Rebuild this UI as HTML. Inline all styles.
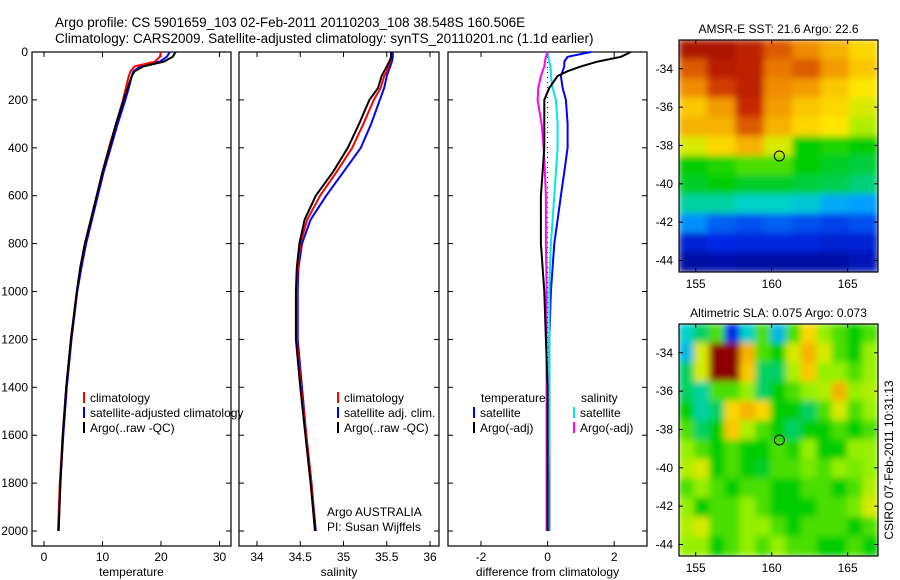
<!DOCTYPE html>
<html><head><meta charset="utf-8">
<style>
body{margin:0;background:#fff;width:900px;height:580px;overflow:hidden}
svg{display:block;font-family:"Liberation Sans",sans-serif}
text{font-size:12px;fill:#000}
</style></head><body>
<svg id="fig" width="900" height="580">
<defs>
<filter id="blur" x="0" y="0" width="1" height="1"><feGaussianBlur stdDeviation="3.5" edgeMode="duplicate"/></filter>
<clipPath id="clipM1"><rect x="679" y="40" width="199" height="232"/></clipPath>
<clipPath id="clipM2"><rect x="679" y="324" width="199" height="232"/></clipPath>
</defs>
<text x="55" y="27" style="font-size:13.5px">Argo profile: CS 5901659_103 02-Feb-2011 20110203_108 38.548S 160.506E</text>
<text x="55" y="43" style="font-size:13.5px">Climatology: CARS2009. Satellite-adjusted climatology: synTS_20110201.nc (1.1d earlier)</text>
<text transform="translate(893,460) rotate(-90)" text-anchor="middle">CSIRO 07-Feb-2011 10:31:13</text>
</svg>
<script>
const depths=[0,20,40,60,80,100,150,200,300,400,500,600,700,800,900,1000,1200,1400,1600,1800,2000];
const tempArgo=[22.5,22,20.5,17,15.5,15,14.3,13.6,12.3,11.2,10,9,8,7,6.2,5.6,4.6,3.8,3.2,2.8,2.5];
const tempClim=[20,19.8,19,15.5,14.8,14.5,14,13.5,12.3,11.1,10,9,8,7,6.2,5.6,4.6,3.8,3.2,2.7,2.4];
const tempSat=[21.5,21,19.8,16.5,15.3,15,14.5,13.9,12.6,11.4,10.2,9.2,8.2,7.2,6.4,5.7,4.7,3.9,3.3,2.8,2.5];
const salArgo=[35.55,35.55,35.53,35.5,35.47,35.44,35.4,35.3,35.18,35.05,34.88,34.68,34.55,34.49,34.46,34.45,34.45,34.5,34.56,34.62,34.67];
const salClim=[35.55,35.55,35.54,35.52,35.5,35.47,35.43,35.35,35.23,35.1,34.92,34.73,34.58,34.5,34.47,34.46,34.46,34.51,34.57,34.63,34.67];
const salSat=[35.57,35.57,35.56,35.54,35.52,35.5,35.47,35.42,35.32,35.2,35.0,34.8,34.62,34.52,34.48,34.47,34.47,34.52,34.57,34.63,34.68];
const dTempArgo=[2.5,2.2,1.5,1.0,0.6,0.3,0.05,-0.1,-0.1,-0.1,-0.15,-0.2,-0.2,-0.2,-0.15,-0.1,-0.05,0,0,0,0];
const dTempSat=[1.3,0.6,0.5,0.5,0.45,0.4,0.45,0.55,0.6,0.6,0.5,0.4,0.3,0.2,0.15,0.1,0.05,0.05,0.05,0.05,0.05];
const dSalSat=[0,0.02,0.05,0.08,0.1,0.1,0.15,0.25,0.3,0.3,0.25,0.2,0.15,0.1,0.07,0.05,0.05,0.05,0.05,0.03,0.03];
const dSalArgo=[0,-0.05,-0.08,-0.1,-0.15,-0.2,-0.28,-0.3,-0.18,-0.12,-0.08,-0.05,-0.05,-0.05,-0.04,-0.03,-0.03,-0.03,-0.03,-0.03,-0.03];
const depthTicks=[0,200,400,600,800,1000,1200,1400,1600,1800,2000];
const tempTicks=[0,10,20,30];
const salTicks=[34,34.5,35,35.5,36];
const diffTicks=[-2,0,2];
const latTicks=[-34,-36,-38,-40,-42,-44];
const lonTicks=[155,160,165];
const sstGrid=[
[.95,.95,.92,.85,.80,.75,.70],
[.85,.93,.92,.82,.85,.78,.72],
[.80,.88,.92,.80,.78,.72,.68],
[.72,.78,.90,.78,.72,.70,.65],
[.75,.75,.85,.75,.70,.68,.62],
[.65,.70,.75,.65,.50,.52,.50],
[.50,.52,.55,.55,.50,.48,.47],
[.48,.50,.48,.48,.47,.46,.44],
[.42,.42,.40,.40,.38,.32,.30],
[.28,.22,.20,.22,.20,.18,.20],
[.12,.15,.14,.14,.14,.12,.12],
[.05,.06,.05,.05,.05,.05,.08]];
const slaGrid=[
[.40,.45,.55,.15,.40,.55,.35,.55,.70,.60,.55,.50,.55],
[.35,.65,1.0,1.0,.75,.55,.50,.65,.75,.65,.55,.50,.60],
[.45,.65,1.0,1.0,.72,.45,.45,.62,.72,.60,.60,.55,.60],
[.45,.42,.55,.55,.60,.45,.50,.55,.60,.62,.75,.60,.62],
[.50,.42,.45,.70,.75,.70,.50,.50,.45,.55,.65,.55,.60],
[.55,.45,.50,.72,.62,.55,.50,.45,.50,.50,.55,.50,.55],
[.60,.55,.50,.55,.50,.50,.55,.52,.60,.50,.50,.60,.60],
[.62,.65,.50,.55,.50,.48,.55,.55,.58,.55,.60,.58,.60],
[.55,.60,.55,.50,.55,.55,.50,.50,.55,.55,.50,.55,.62],
[.60,.50,.55,.55,.60,.55,.50,.50,.50,.55,.55,.58,.65],
[.62,.65,.55,.55,.60,.60,.55,.50,.55,.55,.55,.50,.55],
[.60,.60,.50,.55,.60,.55,.60,.55,.55,.50,.50,.55,.50]];
const argoLon=160.506, argoLat=-38.548;

const NS="http://www.w3.org/2000/svg";
const svg=document.getElementById('fig');
function mk(tag,attrs,parent){const e=document.createElementNS(NS,tag);for(const k in attrs)e.setAttribute(k,attrs[k]);(parent||svg).appendChild(e);return e;}
const yD=d=>52+d*0.2395;
const P={top:52,bottom:546};
const panels=[
 {name:'temperature',x0:32,x1:231,sx:v=>44+v*5.85,ticks:tempTicks,label:'temperature'},
 {name:'salinity',x0:239,x1:439,sx:v=>257+(v-34)*86.5,ticks:salTicks,label:'salinity'},
 {name:'difference',x0:448,x1:647,sx:v=>547.6+v*33.3,ticks:diffTicks,label:'difference from climatology'}];
panels.forEach((p,i)=>{
 const g=mk('g',{});
 
 
 const r=mk('rect',{x:p.x0,y:P.top,width:p.x1-p.x0,height:P.bottom-P.top,fill:'none',stroke:'#000','stroke-width':1.2},g);
 
 
 depthTicks.forEach(d=>{
  const y=yD(d);
  mk('line',{x1:p.x0,x2:p.x0+5,y1:y,y2:y,stroke:'#000'},g);
  mk('line',{x1:p.x1,x2:p.x1-5,y1:y,y2:y,stroke:'#000'},g);
  if(i===0){const t=mk('text',{x:p.x0-4,y:y+4,'text-anchor':'end'},g);t.textContent=d;
   
   }
 });
 p.ticks.forEach(v=>{
  const x=p.sx(v);
  mk('line',{x1:x,x2:x,y1:P.top,y2:P.top+5,stroke:'#000'},g);
  mk('line',{x1:x,x2:x,y1:P.bottom,y2:P.bottom-5,stroke:'#000'},g);
  const t=mk('text',{x:x,y:561,'text-anchor':'middle'},g);t.textContent=v;
  
  
 });
 const xl=mk('text',{x:(p.x0+p.x1)/2,y:576,'text-anchor':'middle'},g);xl.textContent=p.label;
 
 
});
function line(panel,vals,color,w,name,dash){
 const pts=vals.map((v,k)=>panel.sx(v).toFixed(1)+','+yD(depths[k]).toFixed(1)).join(' ');
 const a={points:pts,fill:'none',stroke:color,'stroke-width':w,'stroke-linejoin':'round'};
 if(dash)a['stroke-dasharray']=dash;
 const e=mk('polyline',a);
 
 
}
line(panels[0],tempSat,'#0000ff',2,'temp-satellite-line');
line(panels[0],tempClim,'#ff0000',2,'temp-climatology-line');
line(panels[0],tempArgo,'#000',2,'temp-argo-line');
line(panels[1],salSat,'#0000ff',2,'sal-satellite-line');
line(panels[1],salClim,'#ff0000',2,'sal-climatology-line');
line(panels[1],salArgo,'#000',2,'sal-argo-line');
const zl=mk('line',{x1:panels[2].sx(0),x2:panels[2].sx(0),y1:yD(0),y2:yD(2000),stroke:'#000','stroke-dasharray':'1,4'});


line(panels[2],dTempSat,'#0000ff',2,'diff-temp-satellite-line');
line(panels[2],dSalSat,'#00e5ee',2,'diff-sal-satellite-line');
line(panels[2],dSalArgo,'#ff00ff',2,'diff-sal-argo-line');
line(panels[2],dTempArgo,'#000',2,'diff-temp-argo-line');

function legend(entries){
 entries.forEach(e=>{
  if(e.c){const b=mk('line',{x1:e.x,x2:e.x,y1:e.y-10,y2:e.y+1,stroke:e.c,'stroke-width':2});
   
   }
  const t=mk('text',{x:e.x+6,y:e.y});t.textContent=e.t;
  
  
 });
}
legend([{x:84,y:402,c:'#f00',t:'climatology'},{x:84,y:417,c:'#00f',t:'satellite-adjusted climatology'},{x:84,y:432,c:'#000',t:'Argo(..raw -QC)'}]);
legend([{x:338,y:402,c:'#f00',t:'climatology'},{x:338,y:417,c:'#00f',t:'satellite adj. clim.'},{x:338,y:432,c:'#000',t:'Argo(..raw -QC)'}]);
legend([{x:475,y:402,t:'temperature'},{x:474,y:417,c:'#00f',t:'satellite'},{x:474,y:432,c:'#000',t:'Argo(-adj)'},
 {x:575,y:402,t:'salinity'},{x:574,y:417,c:'#00e5ee',t:'satellite'},{x:574,y:432,c:'#f0f',t:'Argo(-adj)'}]);
const t1=mk('text',{x:327,y:516});t1.textContent='Argo AUSTRALIA';


const t2=mk('text',{x:327,y:531});t2.textContent='PI: Susan Wijffels';



function jet(v){
 v=Math.max(0,Math.min(1,v));
 const stops=[[0,[0,0,130]],[0.15,[0,40,230]],[0.3,[0,160,255]],[0.4,[0,210,200]],[0.5,[0,205,0]],[0.6,[150,240,0]],[0.68,[255,230,0]],[0.8,[240,140,0]],[0.9,[200,40,0]],[1,[140,0,0]]];
 for(let i=1;i<stops.length;i++){if(v<=stops[i][0]){const a=stops[i-1],b=stops[i],f=(v-a[0])/(b[0]-a[0]);
  return 'rgb('+a[1].map((c,k)=>Math.round(c+(b[1][k]-c)*f)).join(',')+')';}}
 return 'rgb(140,0,0)';
}
function map(top,grid,clip,title,name){
 const L=679,R=878,B=top+232,lon0=153.9,lon1=167,lat0=-32.5,lat1=-44.6;
 const sx=lo=>L+(lo-lon0)/(lon1-lon0)*(R-L), sy=la=>top+(la-lat0)/(lat1-lat0)*(B-top);
 const g=mk('g',{'clip-path':'url(#'+clip+')'});
 
 
 const inner=mk('g',{filter:'url(#blur)'},g);
 const nr=grid.length,nc=grid[0].length;
 const cw=(lon1-lon0)/nc, ch=(lat0-lat1)/nr;
 grid.forEach((row,r)=>row.forEach((v,c)=>{
  const x=sx(lon0+c*cw),y=sy(lat0-r*ch);
  const cell=mk('rect',{x:x-0.5,y:y-0.5,width:sx(lon0+(c+1)*cw)-x+1,height:sy(lat0-(r+1)*ch)-y+1,fill:jet(v)},inner);
  
  
 }));
 const bx=mk('rect',{x:L,y:top,width:R-L,height:B-top,fill:'none',stroke:'#000','stroke-width':1.2});
 
 
 const c=mk('circle',{cx:sx(argoLon),cy:sy(argoLat),r:5,fill:'none',stroke:'#000','stroke-width':1});
 
 
 latTicks.forEach(la=>{const y=sy(la);
  mk('line',{x1:L,x2:L+4,y1:y,y2:y,stroke:'#000'});mk('line',{x1:R,x2:R-4,y1:y,y2:y,stroke:'#000'});
  const t=mk('text',{x:L-6,y:y+4,'text-anchor':'end'});t.textContent=la;
  
  });
 lonTicks.forEach(lo=>{const x=sx(lo);
  mk('line',{x1:x,x2:x,y1:B,y2:B-4,stroke:'#000'});mk('line',{x1:x,x2:x,y1:top,y2:top+4,stroke:'#000'});
  const t=mk('text',{x:x,y:B+16,'text-anchor':'middle'});t.textContent=lo;
  
  });
 const tt=mk('text',{x:(L+R)/2,y:top-7,'text-anchor':'middle'});tt.textContent=title;
 
 
}
map(40,sstGrid,'clipM1','AMSR-E SST: 21.6 Argo: 22.6','sst-map');
map(324,slaGrid,'clipM2','Altimetric SLA: 0.075 Argo: 0.073','sla-map');
</script>
</body></html>
